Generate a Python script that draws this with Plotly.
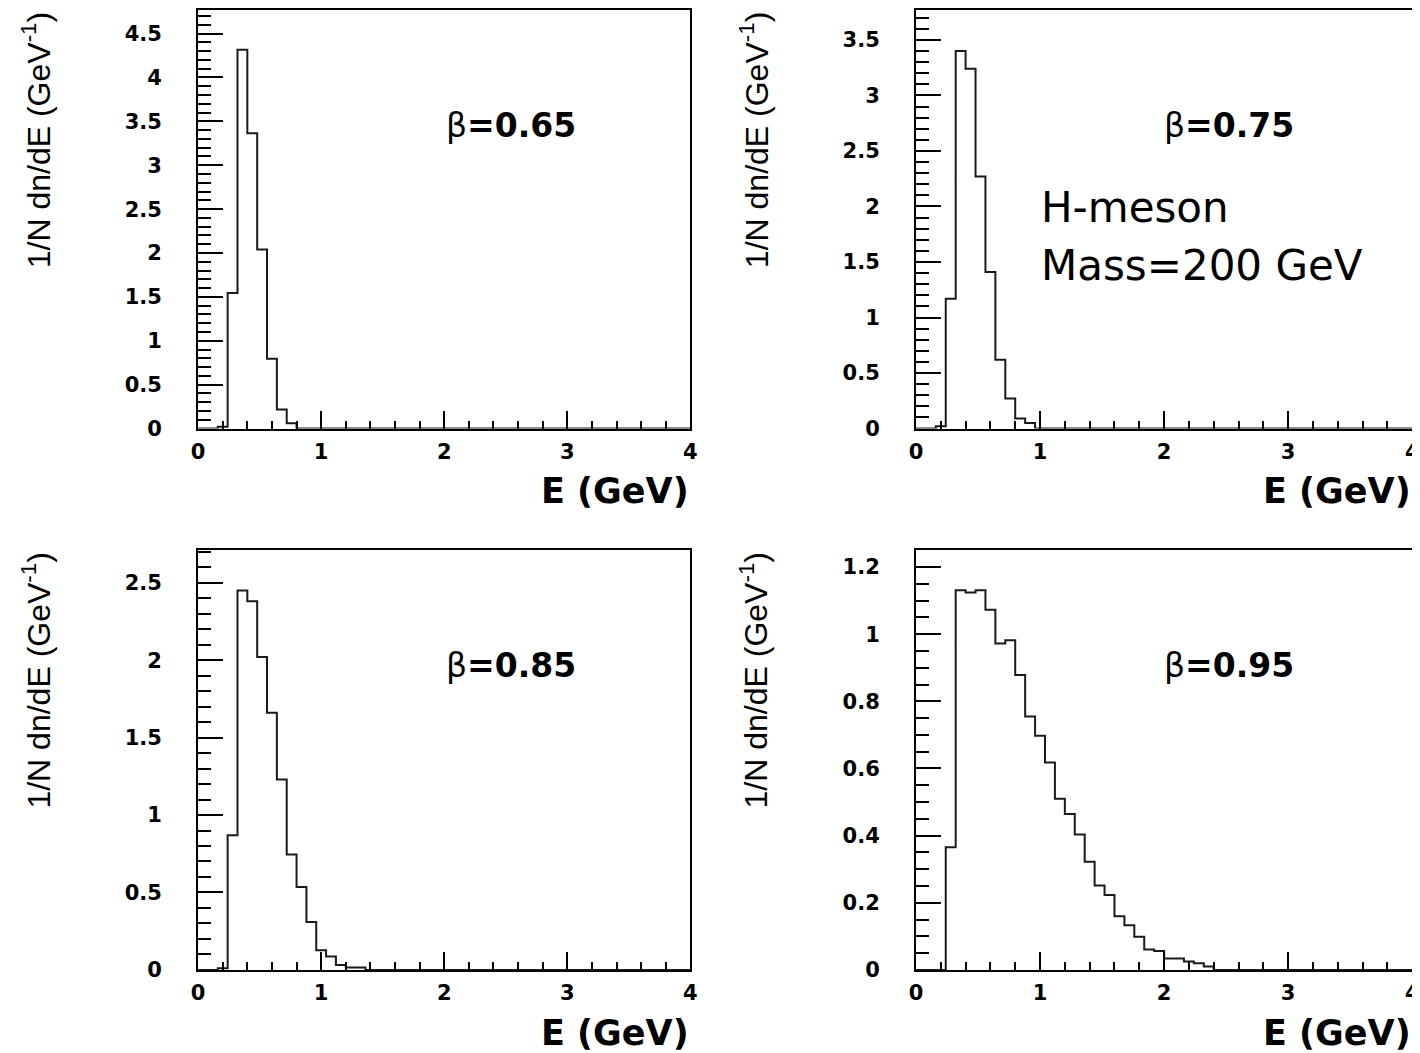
import numpy as np
import plotly.graph_objects as go

# 50 bins of 0.08 GeV between 0 and 4 GeV
E_MIN, E_MAX, N_BINS = 0.0, 4.0, 50
FIRST_BIN = 0.16  # lower edge of the first listed bin in every series

# 1/N dn/dE per bin, starting at FIRST_BIN
beta_065 = [0.02, 1.545, 4.317, 3.366, 2.041, 0.796, 0.217, 0.06]
beta_075 = [0.02, 1.17, 3.40, 3.24, 2.27, 1.41, 0.62, 0.27, 0.09, 0.05]
beta_085 = [0.01, 0.87, 2.45, 2.38, 2.02, 1.66, 1.23, 0.745, 0.535, 0.31,
            0.126, 0.086, 0.032, 0.015, 0.015]
beta_095 = [0.0, 0.365, 1.131, 1.124, 1.131, 1.073, 0.972, 0.982, 0.878, 0.755,
            0.697, 0.618, 0.510, 0.464, 0.403, 0.322, 0.251, 0.223, 0.160, 0.133,
            0.099, 0.061, 0.056, 0.034, 0.034, 0.025, 0.020, 0.010]

beta_labels = ["0.65", "0.75", "0.85", "0.95"]
series = [beta_065, beta_075, beta_085, beta_095]
y_tops = [4.77, 3.77, 2.71, 1.25]
y_major = [0.5, 0.5, 0.5, 0.2]
y_minor = [0.1, 0.1, 0.1, 0.05]

W, H = 1420, 1053
# page margin + screenshot scaling, measured from earlier renders
SX, AX = 0.9917, 12.6
SY, AY = 0.9917, 7.1
# panel frames in screen pixels: (left, right, top, bottom)
FRAMES = [(196, 689, 9, 429), (915, 1412, 9, 429),
          (196, 689, 551, 972), (915, 1412, 551, 972)]

TICK_FONT = dict(family="DejaVu Sans", size=21, color="black", weight="bold")


def px(x):
    return (x - AX) / SX / W


def py(y):
    return 1 - (y - AY) / SY / H


def step_xy(vals):
    edges = np.linspace(E_MIN, E_MAX, N_BINS + 1)
    start = int(round((FIRST_BIN - E_MIN) / ((E_MAX - E_MIN) / N_BINS)))
    full = np.zeros(N_BINS)
    full[start:start + len(vals)] = vals
    return edges, np.append(full, full[-1])


fig = go.Figure()
annotations = []
layout = {}
for i, (vals, lab) in enumerate(zip(series, beta_labels)):
    n = "" if i == 0 else str(i + 1)
    xa, ya = "x" + n, "y" + n
    l, r, t, b = FRAMES[i]
    x, y = step_xy(vals)
    fig.add_trace(go.Scatter(
        x=x, y=y, mode="lines", line=dict(shape="hv", color="#1a1a1a", width=2),
        xaxis=xa, yaxis=ya, showlegend=False, hoverinfo="skip",
    ))
    layout["xaxis" + n] = dict(
        domain=[px(l), min(px(r), 1.0)], anchor=ya, range=[E_MIN, E_MAX],
        showgrid=False, zeroline=False, showline=True, mirror=True,
        linecolor="black", linewidth=2,
        ticks="inside", ticklen=18, tickwidth=2, tickcolor="black",
        dtick=1, tick0=0, tickfont=TICK_FONT, ticklabelstandoff=3,
        minor=dict(ticks="inside", ticklen=8, tickwidth=2, tickcolor="black", dtick=0.2),
    )
    layout["yaxis" + n] = dict(
        domain=[py(b), py(t)], anchor=xa, range=[0, y_tops[i]],
        showgrid=False, zeroline=False, showline=True, mirror=True,
        linecolor="black", linewidth=2,
        ticks="inside", ticklen=25, tickwidth=2, tickcolor="black",
        dtick=y_major[i], tick0=0, tickfont=TICK_FONT, ticklabelstandoff=30,
        minor=dict(ticks="inside", ticklen=13, tickwidth=2, tickcolor="black", dtick=y_minor[i]),
    )
    # x title, right aligned at axis end
    annotations.append(dict(
        text="<b>E (GeV)</b>", xref="paper", yref="paper",
        x=px(r + 1), y=py(b + 63), xanchor="right", yanchor="middle",
        showarrow=False, font=dict(family="DejaVu Sans", size=35, color="black"),
    ))
    # y title, rotated, top aligned
    annotations.append(dict(
        text="1/N dn/dE (GeV<sup>-1</sup>)", xref="paper", yref="paper",
        x=px(l - 162), y=py(t), xanchor="center", yanchor="top",
        textangle=-90, showarrow=False,
        font=dict(family="Liberation Sans", size=32, color="black"),
    ))
    annotations.append(dict(
        text="\u03b2<b>=" + lab + "</b>", xref="paper", yref="paper",
        x=px(l + 246), y=py(t + 116), xanchor="left", yanchor="middle",
        showarrow=False, font=dict(family="DejaVu Sans", size=33, color="black"),
    ))

annotations.append(dict(
    text="H-meson", xref="paper", yref="paper", x=px(1038), y=py(207),
    xanchor="left", yanchor="middle", showarrow=False,
    font=dict(family="DejaVu Sans", size=42, color="black"),
))
annotations.append(dict(
    text="Mass=200 GeV", xref="paper", yref="paper", x=px(1038), y=py(265),
    xanchor="left", yanchor="middle", showarrow=False,
    font=dict(family="DejaVu Sans", size=42, color="black"),
))

fig.update_layout(
    width=W, height=H, margin=dict(l=0, r=0, t=0, b=0),
    paper_bgcolor="white", plot_bgcolor="white",
    annotations=annotations, **layout,
)
fig.write_html("out.html")
